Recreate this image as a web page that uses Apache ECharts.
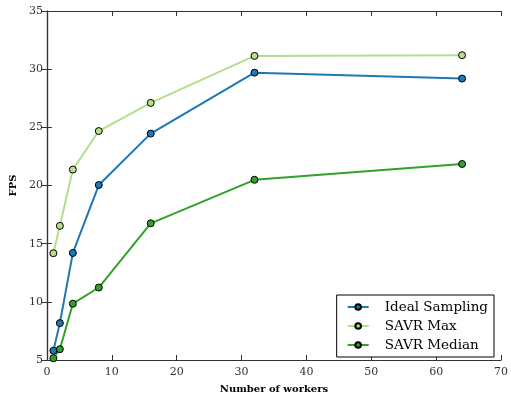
<!DOCTYPE html>
<html><head><meta charset="utf-8">
<script src="https://cdn.jsdelivr.net/npm/echarts@6/dist/echarts.min.js"></script>
<style>html,body{margin:0;padding:0;background:#fff}#c{width:511px;height:399px}</style>
</head><body><div id="c"></div>
<script>
const workers = [1, 2, 4, 8, 16, 32, 64];
const idealSampling = [5.8, 8.17, 14.2, 20.04, 24.46, 29.7, 29.19];
const savrMax = [14.18, 16.53, 21.37, 24.68, 27.1, 31.14, 31.2];
const savrMedian = [5.15, 5.93, 9.84, 11.23, 16.75, 20.49, 21.85];
const seriesNames = ['Ideal Sampling', 'SAVR Max', 'SAVR Median'];
const colors = ['#1f78b4', '#b2df8a', '#33a02c'];
const FONT = 'DejaVu Serif';

const chart = echarts.init(document.getElementById('c'));
function mk(name, vals, color) {
  return {
    name, type: 'line', data: workers.map((w, i) => [w, vals[i]]),
    symbol: 'circle', symbolSize: 7,
    lineStyle: { color, width: 2 },
    itemStyle: { color, borderColor: '#000', borderWidth: 1 },
    emphasis: { disabled: true }
  };
}
const axLine = { show: true, lineStyle: { color: '#333', width: 1.2 } };
const tick = { show: true, inside: true, length: 5, lineStyle: { color: '#333' } };
chart.setOption({
  animation: false,
  grid: { left: 45, right: 10, top: 11, bottom: 35 },
  xAxis: [{
    type: 'value', min: 0, max: 70, interval: 10,
    name: 'Number of workers', nameLocation: 'middle', nameGap: 24,
    nameTextStyle: { fontFamily: FONT, fontWeight: 'bold', fontSize: 10, color: '#000' },
    axisLine: axLine, axisTick: tick, splitLine: { show: false },
    axisLabel: { fontFamily: FONT, fontSize: 11, color: '#333', margin: 7 }
  }, {
    type: 'value', min: 0, max: 70, interval: 10, position: 'top',
    axisLine: axLine, axisTick: tick, splitLine: { show: false }, axisLabel: { show: false }
  }],
  yAxis: [{
    type: 'value', min: 5, max: 35, interval: 5,
    name: 'FPS', nameLocation: 'middle', nameGap: 22,
    nameTextStyle: { fontFamily: FONT, fontWeight: 'bold', fontSize: 10, color: '#000' },
    axisLine: axLine, axisTick: tick, splitLine: { show: false },
    axisLabel: { fontFamily: FONT, fontSize: 11, color: '#333', margin: 4 }
  }, {
    type: 'value', min: 5, max: 35, interval: 5, position: 'right',
    axisLine: axLine, axisTick: tick, splitLine: { show: false }, axisLabel: { show: false }
  }],
  legend: {
    data: seriesNames, orient: 'vertical', right: 17, bottom: 42,
    itemWidth: 21, itemHeight: 7, itemGap: 5,
    padding: [5, 6, 5, 10],
    borderColor: '#000', borderWidth: 1, backgroundColor: '#fff',
    textStyle: { fontFamily: FONT, fontSize: 13.5, color: '#000', padding: [0, 0, 0, 11] }
  },
  series: [
    mk(seriesNames[0], idealSampling, colors[0]),
    mk(seriesNames[1], savrMax, colors[1]),
    mk(seriesNames[2], savrMedian, colors[2])
  ]
});
</script></body></html>
